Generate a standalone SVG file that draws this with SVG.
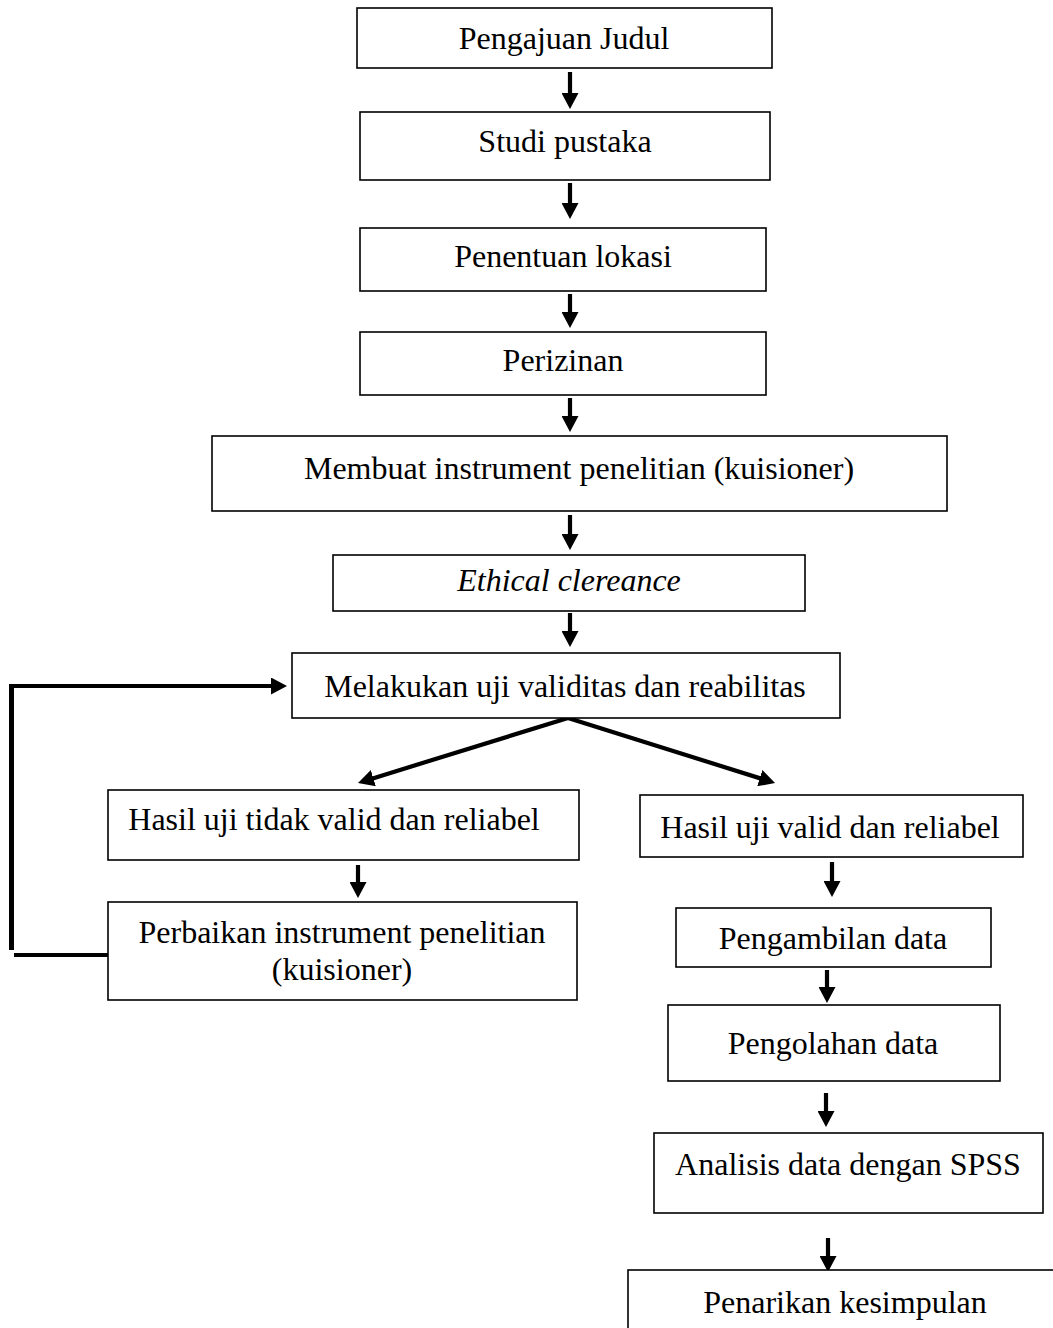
<svg xmlns="http://www.w3.org/2000/svg" width="1053" height="1328" viewBox="0 0 1053 1328">
<defs>
<style>
.box{fill:#fff;stroke:#000;stroke-width:1.6}
.t{font-family:"Liberation Serif","Times New Roman",serif;font-size:32px;fill:#000;text-anchor:middle}
.i{font-style:italic}
.c{stroke:#000;stroke-width:4.2;fill:none}
</style>
<marker id="ah" viewBox="0 0 16 17" refX="4" refY="8.5" markerWidth="16" markerHeight="17" markerUnits="userSpaceOnUse" orient="auto">
<path d="M0,0 L16,8.5 L0,17 z" fill="#000"/>
</marker>
</defs>
<rect width="1053" height="1328" fill="#fff"/>
<g id="connectors">
<line class="c" x1="570" y1="72" x2="570" y2="97" marker-end="url(#ah)"/>
<line class="c" x1="570" y1="183" x2="570" y2="207" marker-end="url(#ah)"/>
<line class="c" x1="570" y1="294" x2="570" y2="316" marker-end="url(#ah)"/>
<line class="c" x1="570" y1="398" x2="570" y2="420" marker-end="url(#ah)"/>
<line class="c" x1="570" y1="515" x2="570" y2="538" marker-end="url(#ah)"/>
<line class="c" x1="570" y1="613" x2="570" y2="635" marker-end="url(#ah)"/>
<line class="c" x1="568" y1="718" x2="369.5" y2="779.4" marker-end="url(#ah)"/>
<line class="c" x1="568" y1="718" x2="763.6" y2="779.4" marker-end="url(#ah)"/>
<line class="c" x1="358" y1="865" x2="358" y2="886" marker-end="url(#ah)"/>
<line class="c" x1="832" y1="862" x2="832" y2="885" marker-end="url(#ah)"/>
<line class="c" x1="827" y1="970" x2="827" y2="991" marker-end="url(#ah)"/>
<line class="c" x1="826" y1="1093" x2="826" y2="1115" marker-end="url(#ah)"/>
<line class="c" x1="828" y1="1238" x2="828" y2="1260" marker-end="url(#ah)"/>
<line class="c" x1="108" y1="955" x2="14" y2="955"/>
<line class="c" x1="11.5" y1="950" x2="11.5" y2="684" style="stroke-width:5"/>
<line class="c" x1="9" y1="686" x2="275" y2="686" marker-end="url(#ah)"/>
</g>
<g id="n1"><rect class="box" x="357" y="8" width="415" height="60"/><text class="t" x="564" y="49">Pengajuan Judul</text></g>
<g id="n2"><rect class="box" x="360" y="112" width="410" height="68"/><text class="t" x="565" y="152">Studi pustaka</text></g>
<g id="n3"><rect class="box" x="360" y="228" width="406" height="63"/><text class="t" x="563" y="267">Penentuan lokasi</text></g>
<g id="n4"><rect class="box" x="360" y="332" width="406" height="63"/><text class="t" x="563" y="371">Perizinan</text></g>
<g id="n5"><rect class="box" x="212" y="436" width="735" height="75"/><text class="t" x="579" y="479">Membuat instrument penelitian (kuisioner)</text></g>
<g id="n6"><rect class="box" x="333" y="555" width="472" height="56"/><text class="t i" x="569" y="591">Ethical clereance</text></g>
<g id="n7"><rect class="box" x="292" y="653" width="548" height="65"/><text class="t" x="565" y="697">Melakukan uji validitas dan reabilitas</text></g>
<g id="n8"><rect class="box" x="108" y="790" width="471" height="70"/><text class="t" x="334" y="830">Hasil uji tidak valid dan reliabel</text></g>
<g id="n9"><rect class="box" x="108" y="902" width="469" height="98"/><text class="t" x="342" y="943">Perbaikan instrument penelitian</text><text class="t" x="342" y="980">(kuisioner)</text></g>
<g id="n10"><rect class="box" x="640" y="795" width="383" height="62"/><text class="t" x="830" y="838">Hasil uji valid dan reliabel</text></g>
<g id="n11"><rect class="box" x="676" y="908" width="315" height="59"/><text class="t" x="833" y="949">Pengambilan data</text></g>
<g id="n12"><rect class="box" x="668" y="1005" width="332" height="76"/><text class="t" x="833" y="1054">Pengolahan data</text></g>
<g id="n13"><rect class="box" x="654" y="1133" width="389" height="80"/><text class="t" x="848" y="1175">Analisis data dengan SPSS</text></g>
<g id="n14"><rect class="box" x="628" y="1270" width="440" height="80"/><text class="t" x="845" y="1313">Penarikan kesimpulan</text></g>
</svg>
